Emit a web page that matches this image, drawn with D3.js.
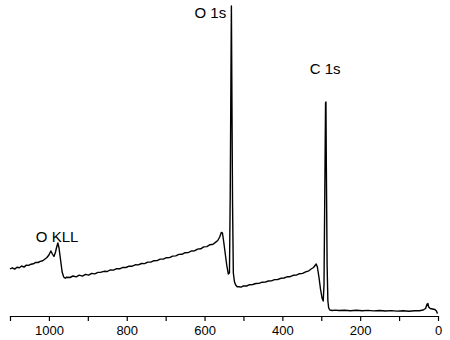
<!DOCTYPE html>
<html>
<head>
<meta charset="utf-8">
<script src="https://cdn.jsdelivr.net/npm/d3@7"></script>
<style>
  body { margin: 0; background: #fff; }
  svg { display: block; font-family: "Liberation Sans", Arial, sans-serif; }
</style>
</head>
<body>
<div id="chart"></div>
<script>
// XPS survey spectrum, binding energy (eV) vs intensity (a.u.)
var bindingEnergy = [
  1100, 1094, 1088, 1082, 1076, 1070, 1064, 1058, 1052, 1046, 1040, 1034, 1028, 1022, 1016, 1010,
  1005, 1000, 995, 991, 987, 983, 980, 977, 974, 970, 966, 962, 958, 954,
  946, 938, 930, 922, 914, 906, 898, 890, 882, 874, 866, 858, 850, 842, 834, 826, 818, 810,
  802, 794, 786, 778, 770, 762, 754, 746, 738, 730, 722, 714, 706, 698, 690, 682, 674, 666,
  658, 650, 642, 634, 626, 618, 610, 602, 594, 586, 578, 572, 566, 561, 557, 554, 551, 547,
  543, 539, 536, 534, 532, 531, 530, 528, 526, 523, 520, 516, 511, 506,
  500, 492, 484, 476, 468, 460, 452, 444, 436, 428, 420, 412, 404, 396, 388, 380, 372, 364,
  356, 348, 340, 332, 326, 320, 316, 313, 310, 306, 302, 298, 295, 293, 291, 289, 288, 287,
  285, 283, 281, 278, 272, 264, 255, 240, 225, 210, 195, 180, 165, 150, 135, 120, 105, 90,
  75, 60, 48, 38, 32, 28, 26, 24, 20, 14, 8, 4, 2, 1
];
var intensity = [
  46, 47.2, 45.9, 47.8, 47.3, 49.0, 47.9, 49.9, 49.6, 50.8, 51.2, 52.6, 52.5, 53.6, 54.2, 56.0,
  57.5, 60, 64, 61, 58.5, 63, 68, 72, 67, 55, 43, 38, 36.8, 37.8,
  37.5, 39.0, 38.1, 39.8, 38.9, 40.7, 39.8, 41.6, 41.1, 42.6, 42.8, 43.7, 43.5, 45.1, 44.9, 46.3, 46.2, 47.6,
  47.5, 48.9, 48.8, 50.2, 50.1, 51.5, 51.4, 52.9, 52.9, 54.3, 54.4, 55.9, 55.9, 57.3, 57.4, 58.9, 59.1, 60.6,
  60.7, 62.3, 62.4, 64.0, 64.1, 65.9, 66.2, 68.1, 68.4, 70.3, 70.8, 72.6, 74.5, 78, 82.5, 82, 74, 62,
  50, 41, 42, 120, 250, 309, 240, 110, 42, 33, 30, 28.2, 28.3, 27.9,
  29.1, 29.0, 30.3, 30.5, 31.5, 31.6, 32.8, 32.9, 34.0, 34.1, 35.4, 35.5, 36.7, 37.0, 38.2, 38.3, 39.7, 39.9,
  41.3, 41.6, 43.2, 44.2, 46.0, 47.5, 49.5, 51, 48, 38, 26, 17, 14, 30, 120, 212, 213, 150,
  50, 14, 7, 5, 4.5, 4.9, 4.5, 4.8, 4.3, 4.7, 4.2, 4.6, 4.1, 4.5, 4.0, 4.4, 3.9, 4.3,
  3.8, 4.2, 4.3, 5, 6.5, 11, 11.5, 8, 6.5, 6, 5.5, 4, 2, 1.5
];

var majorTicks = [1000, 800, 600, 400, 200, 0];
var minorTicks = [1100, 900, 700, 500, 300, 100];

var peakLabels = ["O KLL", "O 1s", "C 1s"];
var labelBE = [979, 585, 290];
var labelIntensity = [73, 297, 241];

var width = 450, height = 340;

var x = d3.scaleLinear().domain([1100, 0]).range([10, 438]);
var y = d3.scaleLinear().domain([0, 310]).range([315, 5]);

var svg = d3.select("#chart")
  .append("svg")
    .attr("width", width)
    .attr("height", height);

// spectrum
var pts = bindingEnergy.map(function(d, i) { return [d, intensity[i]]; });
var line = d3.line()
  .x(function(d) { return x(d[0]); })
  .y(function(d) { return y(d[1]); });

svg.append("path")
  .datum(pts)
  .attr("d", line)
  .attr("fill", "none")
  .attr("stroke", "#000")
  .attr("stroke-width", 1.4)
  .attr("stroke-linejoin", "round");

// x axis
var axisY = 316;
var axis = svg.append("g")
  .attr("transform", "translate(0," + axisY + ")")
  .call(d3.axisBottom(x).tickValues(majorTicks).tickFormat(d3.format("d"))
    .tickSize(5).tickSizeOuter(0).tickPadding(5));

svg.append("g")
  .attr("transform", "translate(0," + axisY + ")")
  .call(d3.axisBottom(x).tickValues(minorTicks).tickSize(5).tickSizeOuter(0).tickFormat(""))
  .select(".domain").remove();

svg.selectAll(".tick line").attr("stroke", "#000").attr("stroke-width", 1.2);
axis.select(".domain").attr("stroke", "#000").attr("stroke-width", 1.2);
axis.selectAll("text")
  .attr("fill", "#000")
  .style("font-size", "13px")
  .style("font-family", "'Liberation Sans', Arial, sans-serif");

// peak labels
svg.selectAll(".peak")
  .data(peakLabels)
  .enter()
  .append("text")
    .attr("class", "peak")
    .attr("x", function(d, i) { return x(labelBE[i]); })
    .attr("y", function(d, i) { return y(labelIntensity[i]); })
    .attr("text-anchor", "middle")
    .style("font-size", "15px")
    .attr("fill", "#000")
    .text(function(d) { return d; });
</script>
</body>
</html>
